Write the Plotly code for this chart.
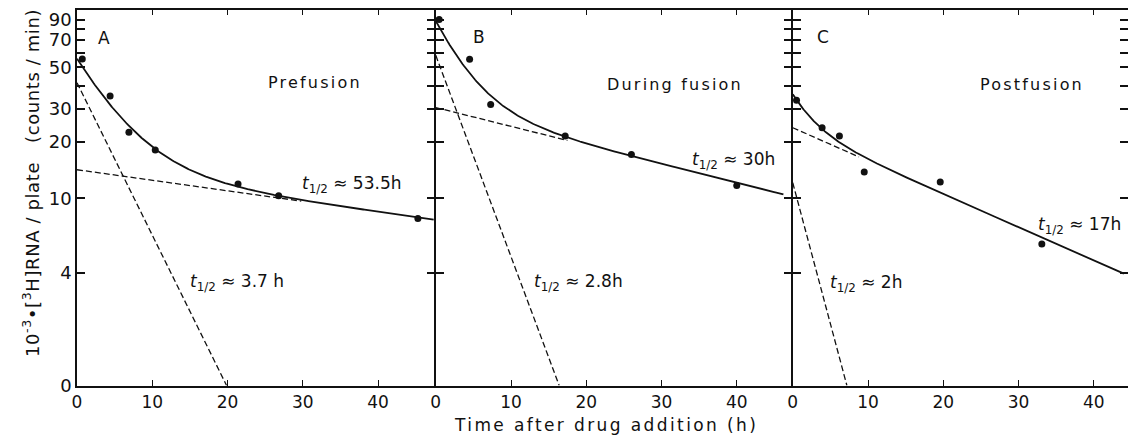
import numpy as np
import plotly.graph_objects as go

# ---------------------------------------------------------------------------
# Measured [3H]RNA per plate (10^-3 counts/min) after drug addition (h)
# ---------------------------------------------------------------------------
pre_t = [0.7, 4.4, 6.9, 10.4, 21.4, 26.8, 45.3]
pre_y = [55.4, 35.2, 22.5, 18.1, 11.9, 10.3, 7.8]

dur_t = [0.45, 4.5, 7.3, 17.2, 26.0, 40.0]
dur_y = [90.0, 55.2, 31.7, 21.5, 17.1, 11.7]

post_t = [0.5, 3.9, 6.2, 9.5, 19.6, 33.1]
post_y = [33.4, 23.8, 21.5, 13.8, 12.2, 5.7]

# Two-component decay fits: intercept at t=0 and half-life (h)
pre_fast_y0, pre_fast_half = 41.4, 3.7
pre_slow_y0, pre_slow_half = 14.2, 53.5
dur_fast_y0, dur_fast_half = 58.0, 2.8
dur_slow_y0, dur_slow_half = 30.5, 30.0
post_fast_y0, post_fast_half = 12.1, 2.0
post_slow_y0, post_slow_half = 23.8, 17.0

# extent of each drawn fit line (h)
pre_fit_end, pre_slow_end = 47.4, 29.8
dur_fit_end, dur_slow_end = 46.2, 17.5
post_fit_end, post_slow_end = 44.0, 8.8

panel_letters = ["A", "B", "C"]
panel_names = ["Prefusion", "During fusion", "Postfusion"]
half_life_labels = [("53.5h", "3.7 h"), ("30h", "2.8h"), ("17h", "2h")]

x_tick_vals = [0, 10, 20, 30, 40]
x_tick_text = ["0", "10", "20", "30", "40"]
y_tick_vals = [1, 4, 10, 20, 30, 50, 70, 90]
y_tick_text = ["0", "4", "10", "20", "30", "50", "70", "90"]
y_minor_vals = [40, 60, 80]

W, H = 1128, 439
FONT = "DejaVu Sans"
AXIS_LW = 1.5


def px(x):
    return x / W


def py(y):
    return 1 - y / H


def decay(y0, half, t):
    return y0 * np.power(2.0, -np.asarray(t, dtype=float) / half)


def spaced(text, spacing):
    return f'<span style="letter-spacing:{spacing}px">{text}</span>'


panels = [
    dict(t=pre_t, y=pre_y, fast=(pre_fast_y0, pre_fast_half), slow=(pre_slow_y0, pre_slow_half),
         fit_end=pre_fit_end, slow_end=pre_slow_end),
    dict(t=dur_t, y=dur_y, fast=(dur_fast_y0, dur_fast_half), slow=(dur_slow_y0, dur_slow_half),
         fit_end=dur_fit_end, slow_end=dur_slow_end),
    dict(t=post_t, y=post_y, fast=(post_fast_y0, post_fast_half), slow=(post_slow_y0, post_slow_half),
         fit_end=post_fit_end, slow_end=post_slow_end),
]

# frame boundaries in pixels; neighbouring frames share one drawn line, so the
# domains are pulled apart by one line width (axis lines sit half a width outside)
frame_edges = [77, 435, 792, 1128]
x_scale = 7.525  # px per hour
frame_top, frame_bottom = 9.5, 385.5
y_top_value = 10 ** 2.008

fig = go.Figure()
ink = "#111111"

for i, p in enumerate(panels):
    xa = "x" if i == 0 else f"x{i + 1}"
    ya = "y" if i == 0 else f"y{i + 1}"
    f0, fh = p["fast"]
    s0, sh = p["slow"]

    # fast component: straight on the log axis until it reaches the axis floor
    fast_end = fh * np.log2(f0)
    fig.add_trace(go.Scatter(x=[0, fast_end], y=decay(f0, fh, [0, fast_end]), mode="lines",
                             line=dict(color=ink, width=1.3, dash="6px,3px"),
                             xaxis=xa, yaxis=ya, showlegend=False, hoverinfo="skip"))
    # slow component
    fig.add_trace(go.Scatter(x=[0, p["slow_end"]], y=decay(s0, sh, [0, p["slow_end"]]), mode="lines",
                             line=dict(color=ink, width=1.3, dash="6px,3px"),
                             xaxis=xa, yaxis=ya, showlegend=False, hoverinfo="skip"))
    # total fit = sum of both components
    tt = np.linspace(0, p["fit_end"], 300)
    fig.add_trace(go.Scatter(x=tt, y=decay(f0, fh, tt) + decay(s0, sh, tt), mode="lines",
                             line=dict(color=ink, width=1.8),
                             xaxis=xa, yaxis=ya, showlegend=False, hoverinfo="skip"))
    # measurements
    fig.add_trace(go.Scatter(x=p["t"], y=p["y"], mode="markers",
                             marker=dict(color=ink, size=7),
                             xaxis=xa, yaxis=ya, showlegend=False, cliponaxis=False))

layout = dict(
    width=W, height=H,
    margin=dict(l=0, r=0, t=0, b=0),
    paper_bgcolor="white", plot_bgcolor="rgba(0,0,0,0)",
    font=dict(family=FONT, color=ink, size=16),
)

half = AXIS_LW / 2
for i in range(3):
    xkey = "xaxis" if i == 0 else f"xaxis{i + 1}"
    ykey = "yaxis" if i == 0 else f"yaxis{i + 1}"
    yname = "y" if i == 0 else f"y{i + 1}"
    xname = "x" if i == 0 else f"x{i + 1}"
    left = frame_edges[i] + (half if i > 0 else 0)
    right = frame_edges[i + 1] - (half if i < 2 else 0)
    span = (right - left) / x_scale
    layout[xkey] = dict(
        domain=[px(left), px(right)], anchor=yname,
        range=[0, span], showgrid=False, zeroline=False,
        showline=True, linecolor=ink, linewidth=AXIS_LW, mirror="ticks",
        ticks="inside", ticklen=6, tickwidth=1.3, tickcolor=ink,
        tickmode="array", tickvals=x_tick_vals, ticktext=x_tick_text,
        tickfont=dict(family=FONT, size=17, color=ink),
        automargin=False, layer="above traces",
    )
    layout[ykey] = dict(
        domain=[py(frame_bottom), py(frame_top)], anchor=xname,
        type="log", range=[0, np.log10(y_top_value)],
        showgrid=False, zeroline=False,
        showline=True, linecolor=ink, linewidth=AXIS_LW, mirror="ticks",
        ticks="inside", ticklen=8, tickwidth=1.5, tickcolor=ink,
        tickmode="array", tickvals=y_tick_vals, ticktext=y_tick_text,
        minor=dict(tickmode="array", tickvals=y_minor_vals, ticks="inside",
                   ticklen=8, tickwidth=1.5, tickcolor=ink, showgrid=False),
        showticklabels=(i == 0),
        tickfont=dict(family=FONT, size=18, color=ink),
        automargin=False, layer="above traces",
    )

fig.update_layout(**layout)


def note(text, x, y, size=17, xanchor="center", yanchor="middle", **kw):
    return dict(text=text, x=px(x), y=py(y), xref="paper", yref="paper",
                xanchor=xanchor, yanchor=yanchor, showarrow=False,
                font=dict(size=size, family=FONT, color=ink), **kw)


annotations = []
letter_pos = [(104, 38), (479, 37), (823, 37)]
name_pos = [(315, 82), (675, 84), (1032, 84)]
for i in range(3):
    annotations.append(note(panel_letters[i], *letter_pos[i], size=17))
    annotations.append(note(spaced(panel_names[i], 2.2), *name_pos[i], size=16))

# half-life labels: (slow label position, fast label position), left edge / vertical middle
half_pos = [((300, 184), (188, 282)), ((690, 161), (532, 282)), ((1036, 225), (828, 283))]
for i in range(3):
    for j in range(2):
        annotations.append(note(f"<i>t</i><sub>1/2</sub> ≈ {half_life_labels[i][j]}",
                                *half_pos[i][j], size=17, xanchor="left"))

annotations.append(note(spaced("10<sup>-3</sup>•[<sup>3</sup>H]RNA / plate   (counts / min)", 0.6),
                        31, 183, size=18, textangle=-90))
annotations.append(note(spaced("Time after drug addition (h)", 2.4), 606, 425, size=17))

fig.update_layout(annotations=annotations)
fig.write_html("out.html")
